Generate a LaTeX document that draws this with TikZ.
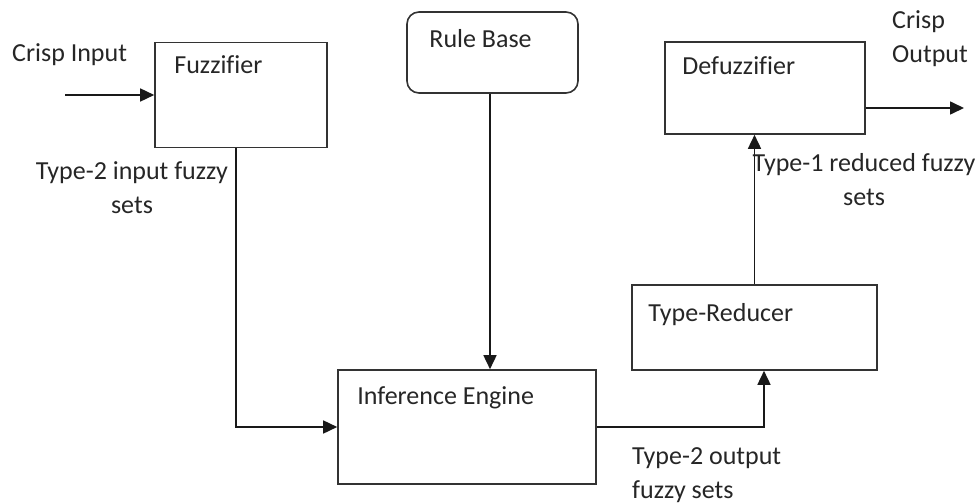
\documentclass[tikz,border=0pt]{standalone}
\usepackage{fontspec}
\setmainfont{Carlito}[Ligatures=CommonOff]
\usetikzlibrary{arrows.meta}

\tikzset{
  blk/.style  = {draw=black!80, line width=1.6pt, inner sep=0pt},
  lbl/.style  = {inner sep=0pt, text=black!85, font=\fontsize{26}{34}\selectfont},
  link/.style = {draw=black!90, line width=1.6pt, -{Triangle[length=14pt,width=13pt]}},
}

\begin{document}
\begin{tikzpicture}[x=1pt, y=-1pt]
  \useasboundingbox (0,0) rectangle (979,503);

  \node[blk, minimum width=172pt, minimum height=105pt]                    (fuzz)   at (241,95)     {};
  \node[blk, rounded corners=12pt, minimum width=171pt, minimum height=81pt] (rule) at (492.5,52.5) {};
  \node[blk, minimum width=200pt, minimum height=92pt]                     (defuzz) at (765,88)     {};
  \node[blk, minimum width=245pt, minimum height=85pt]                     (tred)   at (754.5,327.5){};
  \node[blk, minimum width=258pt, minimum height=114pt]                    (inf)    at (467,427)    {};

  \node[lbl, anchor=base west] (fuzz-t)   at ([shift={(20,32)}]fuzz.north west)   {Fuzzifier};
  \node[lbl, anchor=base west] (rule-t)   at ([shift={(23,36)}]rule.north west)   {Rule Base};
  \node[lbl, anchor=base west] (defuzz-t) at ([shift={(18,33)}]defuzz.north west) {Defuzzifier};
  \node[lbl, anchor=base west] (tred-t)   at ([shift={(17,37)}]tred.north west)   {Type-Reducer};
  \node[lbl, anchor=base west] (inf-t)    at ([shift={(20,35)}]inf.north west)    {Inference Engine};

  \coordinate (in)  at (65,95);
  \coordinate (out) at (964,108);

  \draw[link] (in) -- (fuzz.west);
  \draw[link] ([xshift=-5pt]fuzz.south) |- (inf.west);
  \draw[link] ([xshift=-2.5pt]rule.south) -- ([xshift=-2.5pt]rule.south |- inf.north);
  \draw[link] (inf.east) -| ([xshift=9.5pt]tred.south);
  \draw[link] (tred.north) -- (tred.north |- defuzz.south);
  \draw[link] ([yshift=-20pt]defuzz.east) -- (out);

  \node[lbl, anchor=base west]              (in-t)   at (12,62)   {Crisp Input};
  \node[lbl, anchor=base west, align=left]  (out-t)  at (892,63)  {Crisp\\Output};
  \node[lbl, anchor=base, align=center]     (t2in)   at (132,213) {Type-2 input fuzzy\\sets};
  \node[lbl, anchor=base, align=center]     (t1red)  at (864,205) {Type-1 reduced fuzzy\\sets};
  \node[lbl, anchor=base west, align=left]  (t2out)  at (632,498) {Type-2 output\\fuzzy sets};
\end{tikzpicture}
\end{document}
